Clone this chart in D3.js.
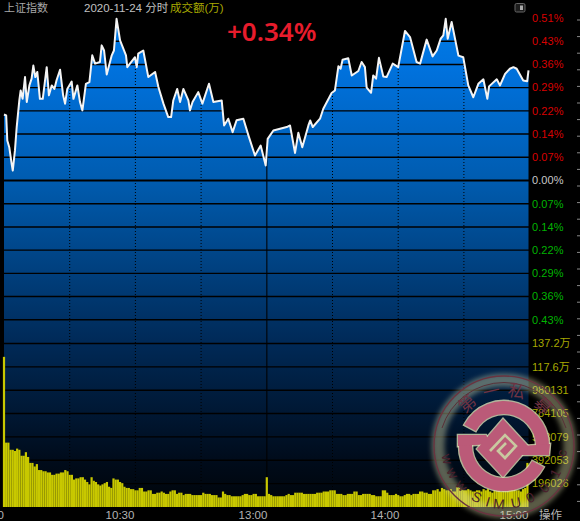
<!DOCTYPE html>
<html><head><meta charset="utf-8">
<script src="https://cdn.jsdelivr.net/npm/d3@7"></script>
<style>html,body{margin:0;padding:0;background:#000;overflow:hidden}svg{display:block}
text{font-family:"Liberation Sans","Noto Sans CJK SC",sans-serif}</style></head><body>
<div id="c"></div>
<script>
const priceMinutes=[0,1,1.5,2.4,3.5,4,5,5.8,7,7.6,8.5,9.6,10.4,11.6,12.6,13.4,14.3,15.2,16.4,17.7,19.5,20.5,21.8,23,24,25.6,27,27.9,28.9,30.9,31.7,33.5,34.7,35.8,37.4,39,40.3,41.6,43.8,44.6,45.7,46.9,49.2,50.2,51.4,53,55.7,56.3,59.8,60.6,61.3,63.6,65.9,69,70.5,72.8,75,76.3,77.3,79.1,80.4,81.9,84.2,84.9,86.1,88.7,90.6,93.6,95.6,99.4,100.5,102.4,104.4,106.2,109.3,111.6,114.6,117.2,119.5,120.4,123,129.1,130.6,132.9,134.4,136.2,139,139.8,141,144.3,145.8,149.6,151.1,152.7,153.7,154.6,157.2,158.8,161.8,163.3,164.8,165.6,167.6,168.6,169.9,171.2,173.2,174.7,177.5,180,183.1,185.4,188.4,190,193,195.7,197.6,199.4,200.6,201.7,202.6,204.4,207.5,209.7,212,214.3,216.6,218.9,220.7,221.5,225,226.5,228.8,231,232.6,234.1,237.1,238.9,239.5];
const pricePct=[.206,.203,.125,.104,.052,.031,.094,.167,.25,.281,.255,.323,.245,.297,.318,.359,.323,.339,.255,.255,.354,.266,.297,.286,.313,.346,.266,.24,.286,.309,.255,.297,.245,.219,.302,.307,.391,.365,.37,.422,.406,.331,.391,.406,.505,.4375,.391,.354,.385,.354,.396,.406,.323,.339,.292,.24,.198,.198,.25,.286,.245,.286,.25,.219,.245,.276,.24,.302,.245,.25,.172,.193,.151,.188,.193,.141,.078,.109,.047,.13,.156,.167,.172,.086,.149,.104,.172,.1875,.167,.193,.224,.273,.281,.357,.349,.377,.382,.328,.342,.37,.354,.29,.274,.328,.318,.383,.325,.323,.365,.354,.467,.448,.37,.365,.44,.3875,.406,.443,.453,.505,.443,.495,.39,.385,.297,.26,.302,.316,.255,.294,.316,.297,.333,.349,.354,.349,.3125,.31,.344];
const volumes=[126,54,54,48,48,47,49,48,43,43,46,42,37,37,34,36,31,31,30,30,29,29,27,27,28,28,29,29,31,30,27,27,23,24,24,25,25,23,21,19,25,22,21,19,18,19,20,21,17,16,24,23,23,21,20,17,16,16,15,15,14,14,16,16,13,13,14,14,11,11,12,12,13,12,11,11,13,14,14,11,12,12,10,11,11,11,10,10,10,10,10,12,11,11,11,10,10,10,8,8,13,11,10,10,9,9,9,9,9,10,11,11,10,10,11,11,9,9,9,9,25,11,10,9,9,9,9,9,9,10,11,10,10,12,12,12,12,11,11,11,11,11,11,12,12,12,13,13,13,14,14,14,11,11,11,10,10,11,11,11,13,13,10,10,11,11,11,11,10,10,9,9,9,14,14,12,10,10,10,11,10,9,9,10,11,11,10,11,11,11,13,13,12,12,11,11,14,14,15,13,16,15,14,14,15,13,13,17,16,15,14,14,15,14,13,13,14,14,13,15,14,15,13,12,14,14,15,13,14,14,15,14,15,16,14,14,13,15,16,37];
const pctTicks=[.5075,.435,.3625,.29,.2175,.145,.0725,0,-.0725,-.145,-.2175,-.29,-.3625,-.435];
const pctLabels=["0.51%","0.43%","0.36%","0.29%","0.22%","0.14%","0.07%","0.00%","0.07%","0.14%","0.22%","0.29%","0.36%","0.43%"];
const volTicks=[137.2,117.6,98.0131,78.4105,58.8079,39.2053,19.6026];
const volLabels=["137.2万","117.6万","980131","784105","588079","392053","196026"];
const timeTicks=[0,60,150,180,240];
const timeLabels=["09:30","10:30","13:00","14:00","15:00"];
const dottedMinutes=[30,60,90,150,180,210];
const sealTop=[["第",-41],["一",-13],["私",13],["募",44]];
const sealBottom=[["w",-103],["w",-118],["w",-133],["S",-152],["I",-164],["M",-175],["U",168],["0",153],["0",136],["1",118],["c",97]];

const W=580,H=521,L=4,R=529.6,BASE=507;
const svg=d3.select("#c").append("svg").attr("width",W).attr("height",H);
svg.append("rect").attr("width",W).attr("height",H).attr("fill","#000");
const x=d3.scaleLinear().domain([0,240]).range([L,R]);
const y=d3.scaleLinear().domain([0,.5075]).range([180.5,18]);
const yV=d3.scaleLinear().domain([0,137.2]).range([BASE,343.5]);

const defs=svg.append("defs");
const g=defs.append("linearGradient").attr("id","fill").attr("gradientUnits","userSpaceOnUse").attr("x1",0).attr("x2",0).attr("y1",18).attr("y2",BASE);
[[0,"#007ce8"],[.1,"#0072de"],[.33,"#005cb0"],[.66,"#002a58"],[.9,"#000c1c"],[1,"#000408"]].forEach(s=>g.append("stop").attr("offset",s[0]).attr("stop-color",s[1]));
defs.append("filter").attr("id","blur").attr("x","-30%").attr("y","-30%").attr("width","160%").attr("height","160%").append("feGaussianBlur").attr("stdDeviation",2.6);
defs.append("filter").attr("id","soft").attr("x","-10%").attr("y","-10%").attr("width","120%").attr("height","120%").append("feGaussianBlur").attr("stdDeviation",.35);

const pts=priceMinutes.map((m,i)=>[m,pricePct[i]]);
svg.append("path").datum(pts).attr("fill","url(#fill)")
  .attr("d",d3.area().x(d=>x(d[0])).y0(BASE).y1(d=>y(d[1])));

// grid
const grid=svg.append("g").attr("stroke","#000");
pctTicks.forEach(t=>grid.append("line").attr("x1",L-.5).attr("x2",R).attr("y1",y(t)).attr("y2",y(t)).attr("stroke-width",t===0?2:1.4));
volTicks.forEach(t=>grid.append("line").attr("x1",L-.5).attr("x2",R).attr("y1",yV(t)).attr("y2",yV(t)).attr("stroke-width",1.4));
dottedMinutes.forEach(m=>grid.append("line").attr("x1",x(m)).attr("x2",x(m)).attr("y1",18).attr("y2",BASE).attr("stroke-dasharray","1 2"));
grid.append("line").attr("x1",x(120)).attr("x2",x(120)).attr("y1",18).attr("y2",BASE).attr("stroke-width",1.4).attr("stroke-opacity",.75);

// volume
svg.append("g").selectAll("rect").data(volumes).join("rect")
  .attr("x",(d,i)=>x(i)-1.1).attr("width",2.2).attr("y",d=>yV(d)).attr("height",d=>BASE-yV(d)).attr("fill","#c8c800");

// price
svg.append("path").datum(pts).attr("fill","none").attr("stroke","#f4f4f4").attr("stroke-width",2).attr("stroke-linejoin","round")
  .attr("d",d3.line().x(d=>x(d[0])).y(d=>y(d[1])));

// right labels
const lab=svg.append("g").attr("font-size",11);
pctTicks.forEach((t,i)=>lab.append("text").attr("x",532).attr("y",y(t)).attr("dy",".35em").text(pctLabels[i])
  .attr("fill",t>0?"#d80000":t<0?"#00b400":"#c8c8c8").attr("letter-spacing",".1"));
volTicks.forEach((t,i)=>lab.append("text").attr("x",532).attr("y",yV(t)).attr("dy",".35em").text(volLabels[i]).attr("fill","#a8a800"));

// right small ticks
d3.range(20,506,16.6).forEach(v=>svg.append("line").attr("x1",577).attr("x2",580).attr("y1",v).attr("y2",v).attr("stroke","#8a8a8a"));

// bottom labels
const tx=[4,120,253,385,514];
timeTicks.forEach((m,i)=>svg.append("text").attr("x",tx[i]).attr("y",519).attr("text-anchor",i?"middle":"end").attr("font-size",11.5).attr("fill","#b4b4b4").text(timeLabels[i]));
svg.append("text").attr("x",539).attr("y",519).attr("font-size",11.5).attr("fill","#b4b4b4").text("操作");

// header
svg.append("text").attr("x",4).attr("y",12).attr("font-size",11).attr("fill","#a8a8a8").text("上证指数");
svg.append("text").attr("x",84).attr("y",12).attr("font-size",11.5).attr("fill","#c0c0c0").text("2020-11-24 分时");
svg.append("text").attr("x",170).attr("y",12).attr("font-size",11.5).attr("fill","#a8a800").text("成交额(万)");
svg.append("text").attr("x",227).attr("y",41).attr("font-size",26).attr("font-weight",600).attr("fill","#e81c2c").style("font-family","'Noto Sans'").text("+0.34%");
svg.append("rect").attr("x",515).attr("y",3.5).attr("width",10).attr("height",8.5).attr("rx",1.5).attr("fill","#1c1c1c").attr("stroke","#666");
svg.append("rect").attr("x",520).attr("y",5.5).attr("width",3).attr("height",4.5).attr("fill","#aaa");

// watermark seal
const s=svg.append("g").attr("transform","translate(504,446)");
s.append("circle").attr("r",66).attr("fill","none").attr("stroke","#d8d8a8").attr("stroke-opacity",.42).attr("stroke-width",13).attr("filter","url(#blur)");
s.append("circle").attr("r",70).attr("fill","none").attr("stroke","#6a3440").attr("stroke-width",1.4);
s.append("path").attr("d","M-62,-18A65,65 0 0,1 62,-18").attr("fill","none").attr("stroke","#5a3038").attr("stroke-width",1);
const arcGen=d3.arc().innerRadius(32).outerRadius(45);
const rad=a=>a*Math.PI/180;
const arcs=[arcGen({startAngle:rad(-62),endAngle:rad(98)}),arcGen({startAngle:rad(118),endAngle:rad(272)})];
const pinks=[...arcs,
 "M-46,-11L-18,-11L-13,-2L-46,0Z",
 "M18,0L46,-2L45,9L18,9Z",
 "M-1,-27L25,1L-1,31L-27,3Z"];
pinks.forEach(d=>s.append("path").attr("d",d).attr("fill","none").attr("stroke","#dcdcb4").attr("stroke-opacity",.8).attr("stroke-width",2.6).attr("filter","url(#soft)"));
pinks.forEach(d=>s.append("path").attr("d",d).attr("fill","#bb5a78"));
s.append("path").attr("d","M-14,5L1,-11L12,0L1,12L-6,5L2,-3").attr("fill","none").attr("stroke","#c9c9a0").attr("stroke-width",2.6);
sealTop.forEach(d=>{const r=56,a=rad(d[1]);
  s.append("text").attr("x",r*Math.sin(a)).attr("y",-r*Math.cos(a)).attr("dy",".35em").attr("text-anchor","middle").attr("font-size",17).attr("fill","#6e3242")
   .attr("transform",`rotate(${d[1]} ${r*Math.sin(a)} ${-r*Math.cos(a)})`).text(d[0]);});
sealBottom.forEach(d=>{const r=58,a=rad(d[1]),px=r*Math.sin(a),py=-r*Math.cos(a);
  s.append("text").attr("x",px).attr("y",py).attr("dy",".35em").attr("text-anchor","middle").attr("font-size",14).attr("fill","#4a1f2c")
   .attr("transform",`rotate(${d[1]-180} ${px} ${py})`).text(d[0]);});
</script></body></html>
